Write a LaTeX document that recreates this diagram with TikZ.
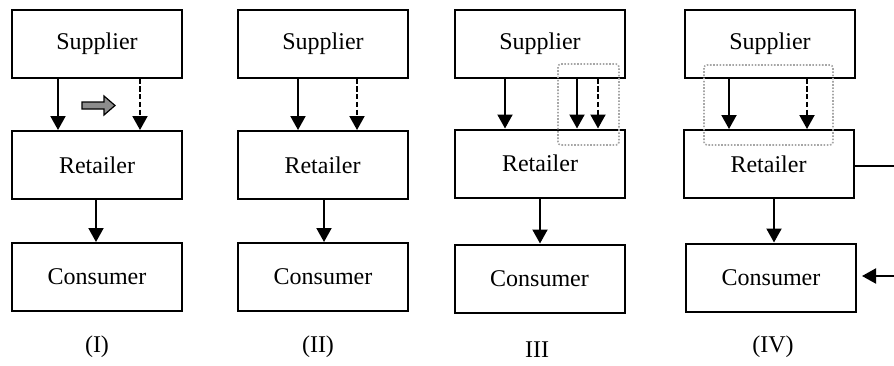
\documentclass[tikz,border=0pt]{standalone}
\usepackage{fontspec}
\setmainfont{Liberation Serif}
\usetikzlibrary{arrows.meta}
\begin{document}
\begin{tikzpicture}[x=0.5pt,y=-0.5pt,
  box/.style={draw,line width=1pt,minimum width=85pt,minimum height=34pt,inner sep=0pt,font=\fontsize{12}{14}\selectfont},
  arr/.style={line width=1pt,-{Triangle[length=7pt,width=7.5pt]}},
  darr/.style={arr,dash pattern=on 2.6pt off 1.3pt},
  selbox/.style={draw=black!35,line width=0.8pt,dash pattern=on 0.8pt off 0.8pt,rounded corners=1.5pt},
  lab/.style={font=\fontsize{12}{14}\selectfont}]
\useasboundingbox (0,0) rectangle (894,365);
% Panel I
\node[box] (S1) at (97,43.5) {Supplier};
\node[box] (R1) at (97,165) {Retailer};
\node[box] (C1) at (97,277) {Consumer};
\draw[arr] (S1.south -| 58,0) -- (R1.north -| 58,0);
\draw[darr] (S1.south -| 140,0) -- (R1.north -| 140,0);
\draw[arr] (R1.south -| 96,0) -- (C1.north -| 96,0);
\draw[fill=black!45,line width=0.6pt] (82,102) -- (104,102) -- (104,96) -- (115,105.5) -- (104,115) -- (104,109) -- (82,109) -- cycle;
\node[lab] (L1) at (97,347) {(I)};
% Panel II
\node[box] (S2) at (323,43.5) {Supplier};
\node[box] (R2) at (322.5,165) {Retailer};
\node[box] (C2) at (323,277) {Consumer};
\draw[arr] (S2.south -| 298,0) -- (R2.north -| 298,0);
\draw[darr] (S2.south -| 357,0) -- (R2.north -| 357,0);
\draw[arr] (R2.south -| 324,0) -- (C2.north -| 324,0);
\node[lab] (L2) at (318,347) {(II)};
% Panel III
\node[box] (S3) at (540,43.5) {Supplier};
\node[box] (R3) at (540,163.5) {Retailer};
\node[box] (C3) at (539.5,278.5) {Consumer};
\draw[arr] (S3.south -| 505,0) -- (R3.north -| 505,0);
\draw[arr] (S3.south -| 577,0) -- (R3.north -| 577,0);
\draw[darr] (S3.south -| 598,0) -- (R3.north -| 598,0);
\draw[arr] (R3.south -| 540,0) -- (C3.north -| 540,0);
\draw[selbox] (558,64) rectangle (619,145);
\node[lab] (L3) at (537,350) {III};
% Panel IV
\node[box] (S4) at (770,43.5) {Supplier};
\node[box] (R4) at (768.5,164) {Retailer};
\node[box] (C4) at (771,277.5) {Consumer};
\draw[arr] (S4.south -| 729,0) -- (R4.north -| 729,0);
\draw[darr] (S4.south -| 807,0) -- (R4.north -| 807,0);
\draw[arr] (R4.south -| 774,0) -- (C4.north -| 774,0);
\draw[selbox] (704,65) rectangle (833,145);
\coordinate (E1) at (905,166);
\coordinate (E2) at (905,276);
\draw[arr,shorten >=2.5pt] (R4.east |- E1) -- (E1) -- (E2) -- (C4.east |- E2);
\node[lab] (L4) at (773,347) {(IV)};
\end{tikzpicture}
\end{document}
